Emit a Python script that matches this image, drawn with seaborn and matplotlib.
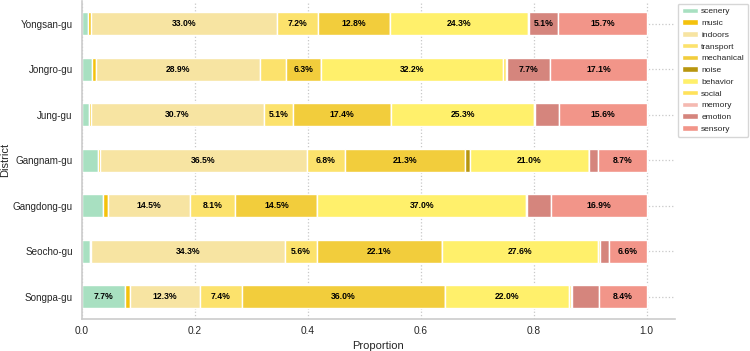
import matplotlib
matplotlib.use("Agg")
import matplotlib.pyplot as plt
import numpy as np
import pandas as pd
import seaborn as sns

districts = ["Yongsan-gu", "Jongro-gu", "Jung-gu", "Gangnam-gu",
             "Gangdong-gu", "Seocho-gu", "Songpa-gu"]
categories = ["scenery", "music", "indoors", "transport", "mechanical", "noise",
              "behavior", "social", "memory", "emotion", "sensory"]

# percent shares per district (order = districts)
scenery = [1.1, 1.8, 1.2, 2.8, 3.8, 1.4, 7.7]
music = [0.5, 0.8, 0.4, 0.5, 0.8, 0.3, 0.9]
indoors = [33.0, 28.9, 30.7, 36.5, 14.5, 34.3, 12.3]
transport = [7.2, 4.6, 5.1, 6.8, 8.1, 5.6, 7.4]
mechanical = [12.8, 6.3, 17.4, 21.3, 14.5, 22.1, 36.0]
noise = [0.0, 0.0, 0.0, 0.8, 0.0, 0.0, 0.0]
behavior = [24.3, 32.2, 25.3, 21.0, 37.0, 27.6, 22.0]
social = [0.2, 0.4, 0.1, 0.1, 0.1, 0.4, 0.3]
memory = [0.1, 0.2, 0.0, 0.0, 0.0, 0.1, 0.2]
emotion = [5.1, 7.7, 4.2, 1.5, 4.3, 1.6, 4.8]
sensory = [15.7, 17.1, 15.6, 8.7, 16.9, 6.6, 8.4]

palette = {
    "scenery": "#a8e0c1", "music": "#f4c20d", "indoors": "#f7e4a2",
    "transport": "#fce26c", "mechanical": "#f2cd3c", "noise": "#b8960f",
    "behavior": "#fff06b", "social": "#ffe25a", "memory": "#f5b9b1",
    "emotion": "#d5857d", "sensory": "#f29589",
}

df = pd.DataFrame({
    "scenery": scenery, "music": music, "indoors": indoors,
    "transport": transport, "mechanical": mechanical, "noise": noise,
    "behavior": behavior, "social": social, "memory": memory,
    "emotion": emotion, "sensory": sensory,
}, index=districts)
props = df / 100.0

sns.set_theme(style="whitegrid", rc={
    "grid.linestyle": ":", "grid.color": "#c8c8c8", "grid.linewidth": 0.9,
    "axes.edgecolor": "#cccccc", "axes.linewidth": 1.2,
})
plt.rcParams["font.family"] = ["Liberation Sans", "DejaVu Sans"]

fig, ax = plt.subplots(figsize=(7.5, 3.51), dpi=100)
ypos = np.arange(len(districts))
left = np.zeros(len(districts))
for cat in categories:
    vals = props[cat].values
    ax.barh(ypos, vals, left=left, height=0.5, color=palette[cat],
            edgecolor="white", linewidth=1.0, label=cat)
    for y, l, v in zip(ypos, left, vals):
        if v >= 0.05:
            ax.text(l + v / 2, y, f"{v * 100:.1f}%", ha="center", va="center",
                    fontsize=6.2, fontweight="bold", color="black")
    left += vals

ax.set_yticks(ypos)
ax.set_yticklabels(districts, fontsize=7.1)
ax.set_ylim(len(districts) - 0.5, -0.5)
ax.set_xlim(0, 1.05)
ax.set_xticks([0, 0.2, 0.4, 0.6, 0.8, 1.0])
ax.set_xticklabels(["0.0", "0.2", "0.4", "0.6", "0.8", "1.0"], fontsize=7.3)
ax.tick_params(axis="y", length=0, pad=6.5)
ax.tick_params(axis="x", length=0, pad=5)
ax.set_xlabel("Proportion", fontsize=8, labelpad=3)
ax.set_ylabel("District", fontsize=8, labelpad=2)
ax.set_axisbelow(True)
sns.despine(ax=ax)
ax.legend(loc="upper left", bbox_to_anchor=(1.0, 1.0), fontsize=6.0,
          frameon=True, handlelength=1.9, handleheight=0.6, labelspacing=0.5,
          borderpad=0.5, handletextpad=0.45, borderaxespad=0.3)

fig.subplots_adjust(left=0.109, right=0.9, top=0.997, bottom=0.09)
fig.savefig("out.png", dpi=100)
